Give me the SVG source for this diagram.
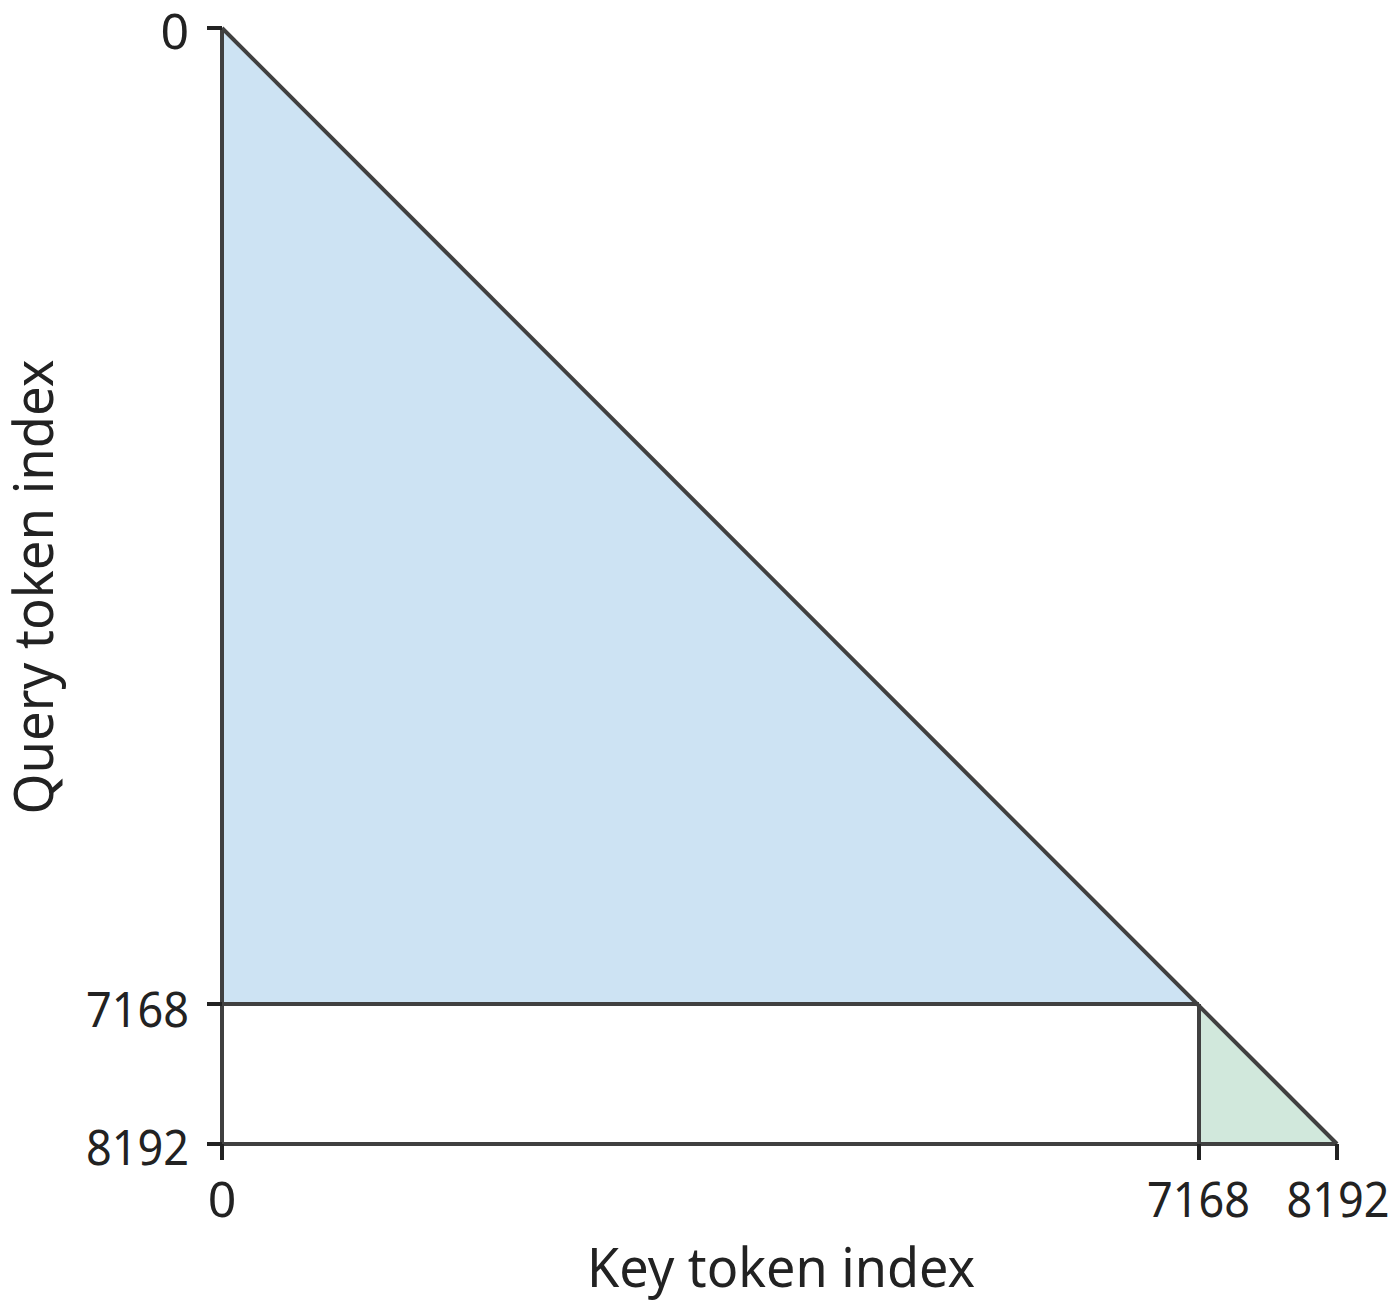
<svg xmlns="http://www.w3.org/2000/svg" width="1400" height="1308" viewBox="0 0 1400 1308">
<style>
.edge{stroke:#404040;stroke-width:4;fill:none;stroke-linecap:butt;stroke-linejoin:miter}
.tick{stroke:#222;stroke-width:4}
.lbl{font-family:"Noto Sans","Open Sans",sans-serif;font-size:50px;fill:#222}
.title{font-family:"Noto Sans","Open Sans",sans-serif;font-size:55px;fill:#222}
</style>
<rect width="1400" height="1308" fill="#fff"/>
<g id="blue-region">
<polygon points="222,28 1199,1004 222,1004" fill="#cde3f3"/>
</g>
<g id="green-region">
<polygon points="1199,1004 1337,1144 1199,1144" fill="#d1e8dc"/>
</g>
<g id="connectors">
<line class="edge" x1="222" y1="28" x2="222" y2="1144"/>
<line class="edge" x1="220" y1="1144" x2="1337" y2="1144"/>
<line class="edge" x1="222" y1="1004" x2="1199" y2="1004"/>
<line class="edge" x1="1199" y1="1004" x2="1199" y2="1144"/>
<line class="edge" x1="222" y1="28" x2="1337" y2="1144"/>
</g>
<g id="ticks">
<line class="tick" x1="207" y1="28" x2="222" y2="28"/>
<line class="tick" x1="207" y1="1004" x2="222" y2="1004"/>
<line class="tick" x1="207" y1="1144" x2="222" y2="1144"/>
<line class="tick" x1="222" y1="1144" x2="222" y2="1160"/>
<line class="tick" x1="1199" y1="1144" x2="1199" y2="1160"/>
<line class="tick" x1="1337" y1="1144" x2="1337" y2="1160"/>
</g>
<g id="y-labels">
<text class="lbl" x="189" y="49" text-anchor="end">0</text>
<text class="lbl" x="189" y="1027" text-anchor="end" textLength="103" lengthAdjust="spacingAndGlyphs">7168</text>
<text class="lbl" x="189" y="1165" text-anchor="end" textLength="103" lengthAdjust="spacingAndGlyphs">8192</text>
</g>
<g id="x-labels">
<text class="lbl" x="222" y="1217" text-anchor="middle">0</text>
<text class="lbl" x="1198.5" y="1217" text-anchor="middle" textLength="103" lengthAdjust="spacingAndGlyphs">7168</text>
<text class="lbl" x="1338" y="1217" text-anchor="middle" textLength="103" lengthAdjust="spacingAndGlyphs">8192</text>
</g>
<g id="x-title">
<text class="title" x="781" y="1287" text-anchor="middle" textLength="388" lengthAdjust="spacingAndGlyphs">Key token index</text>
</g>
<g id="y-title">
<text class="title" transform="translate(53,587) rotate(-90)" x="0" y="0" text-anchor="middle" textLength="455" lengthAdjust="spacingAndGlyphs">Query token index</text>
</g>
</svg>
